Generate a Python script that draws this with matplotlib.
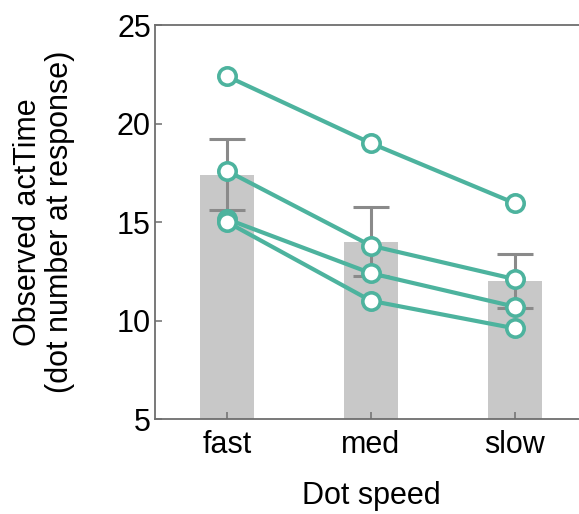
import matplotlib
matplotlib.use("Agg")
import matplotlib.pyplot as plt
import numpy as np

# Observed actTime per dot speed condition
speeds = ["fast", "med", "slow"]
bar_means = [17.4, 14.0, 12.0]
bar_err = [1.8, 1.75, 1.38]

# individual participants (one line each)
subj_1 = [22.4, 19.0, 15.95]
subj_2 = [17.6, 13.8, 12.1]
subj_3 = [15.15, 12.4, 10.7]
subj_4 = [15.0, 11.0, 9.6]
subjects = [subj_1, subj_2, subj_3, subj_4]

teal = "#4DB39E"
spine_col = "#6E6E6E"

plt.rcParams['font.family'] = ['Liberation Sans', 'DejaVu Sans']

fig = plt.figure(figsize=(5.79, 5.14), dpi=100)
ax = fig.add_axes([0.2677, 0.1848, 0.746, 0.7665])

x = np.arange(1, len(speeds) + 1)

ax.bar(x, bar_means, width=0.38, color="#C8C8C8", bottom=0, zorder=1)
ax.errorbar(x, bar_means, yerr=bar_err, fmt='none', ecolor="#8A8A8A",
            elinewidth=2.2, capsize=13, capthick=2.2, zorder=2)

for s in subjects:
    ax.plot(x, s, color=teal, linewidth=3.0, marker='o', markersize=12.5,
            markerfacecolor='white', markeredgecolor=teal, markeredgewidth=2.6,
            zorder=3)

ax.set_xlim(0.5, 3.5)
ax.set_ylim(5, 25)
ax.set_yticks([5, 10, 15, 20, 25])
ax.set_xticks(x)
ax.set_xticklabels(speeds)

for sp in ax.spines.values():
    sp.set_color(spine_col)
    sp.set_linewidth(1.3)

ax.tick_params(axis='both', direction='in', length=5, width=1.1, color=spine_col,
               labelsize=22)
ax.tick_params(axis='y', pad=3)
ax.tick_params(axis='x', pad=8)

ax.set_xlabel("Dot speed", fontsize=22, labelpad=15)
ax.set_ylabel("Observed actTime\n(dot number at response)", fontsize=22,
              labelpad=30, linespacing=1.1)

plt.savefig("out.png", dpi=100)
